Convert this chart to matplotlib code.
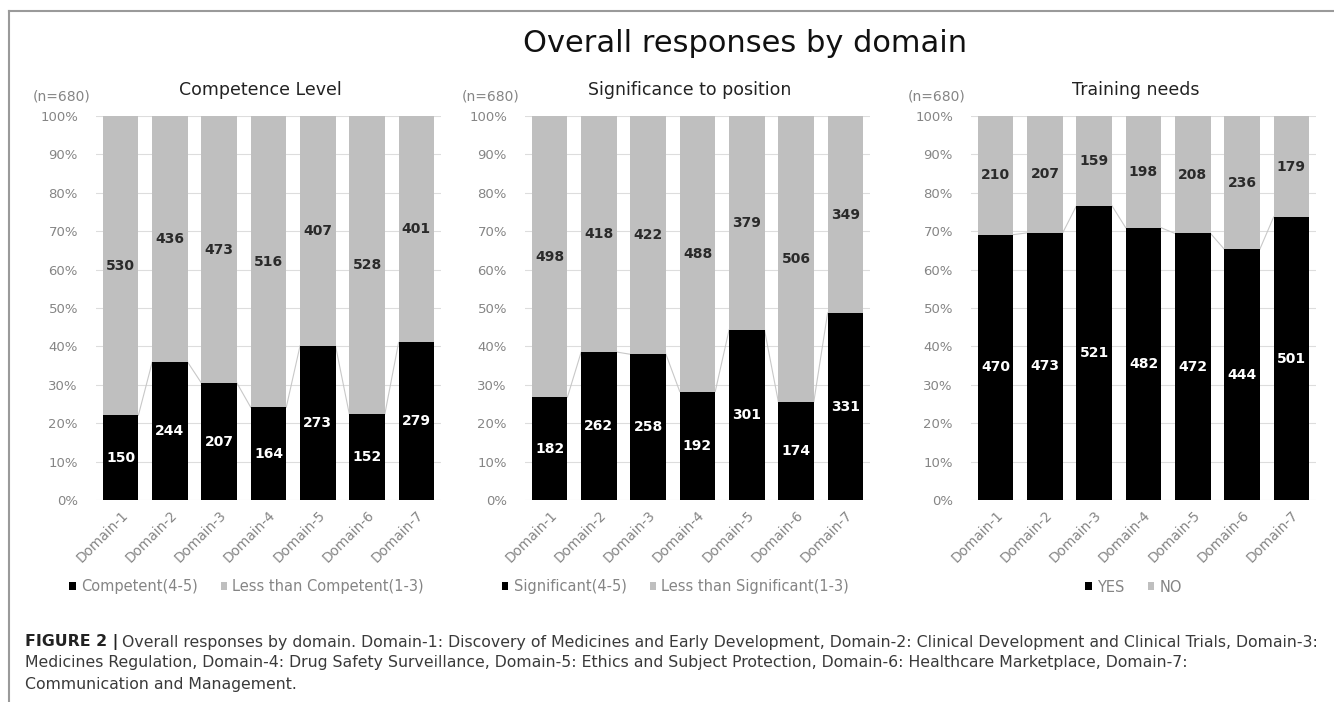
import matplotlib
matplotlib.use("Agg")
from matplotlib import pyplot as plt
from matplotlib.lines import Line2D
from matplotlib.patches import Patch

domains = ["Domain-1", "Domain-2", "Domain-3", "Domain-4", "Domain-5", "Domain-6", "Domain-7"]
n_total = 680

competent = [150, 244, 207, 164, 273, 152, 279]
less_competent = [530, 436, 473, 516, 407, 528, 401]

significant = [182, 262, 258, 192, 301, 174, 331]
less_significant = [498, 418, 422, 488, 379, 506, 349]

yes_needs = [470, 473, 521, 482, 472, 444, 501]
no_needs = [210, 207, 159, 198, 208, 236, 179]

panels = [
    ("Competence Level", competent, less_competent, "Competent(4-5)", "Less than Competent(1-3)"),
    ("Significance to position", significant, less_significant, "Significant(4-5)", "Less than Significant(1-3)"),
    ("Training needs", yes_needs, no_needs, "YES", "NO"),
]

W, H = 1334, 702
plt.rcParams['font.family'] = ['DejaVu Sans']
fig = plt.figure(figsize=(W / 100, H / 100), dpi=100)

GREY = "#bfbfbf"
TXT = "#858585"
axes_left = [96, 525, 971]
legend_shift = [-22, -22, -10]
ax_w = 345
ax_top, ax_bot = 116, 500

fig.text(745 / W, 1 - 44 / H, "Overall responses by domain", ha="center", va="center", fontsize=22, color="#111111")

for (title, low, high, lab_low, lab_high), left, dx in zip(panels, axes_left, legend_shift):
    ax = fig.add_axes([left / W, 1 - ax_bot / H, ax_w / W, (ax_bot - ax_top) / H])
    x = list(range(len(domains)))
    p_low = [v / n_total * 100 for v in low]
    p_high = [v / n_total * 100 for v in high]
    width = 0.72
    ax.bar(x, p_low, width=width, color="black", zorder=3)
    ax.bar(x, p_high, width=width, bottom=p_low, color=GREY, zorder=3)

    # series lines between bar tops
    for i in range(len(x) - 1):
        ax.plot([x[i] + width / 2, x[i + 1] - width / 2], [p_low[i], p_low[i + 1]],
                color="#c8c8c8", lw=0.8, zorder=2)

    for i in x:
        ax.text(i, p_low[i] / 2, str(low[i]), ha="center", va="center", color="white",
                fontsize=10, fontweight="bold", zorder=4)
        ax.text(i, p_low[i] + p_high[i] / 2, str(high[i]), ha="center", va="center", color="#2a2a2a",
                fontsize=10, fontweight="bold", zorder=4)

    ax.set_xlim(-0.5, len(x) - 0.5)
    ax.set_ylim(0, 100)
    ax.set_yticks(range(0, 101, 10))
    ax.set_yticklabels([f"{t}%" for t in range(0, 101, 10)], color=TXT, fontsize=9.5)
    ax.set_xticks(x)
    ax.set_xticklabels(domains, rotation=45, ha="right", rotation_mode="anchor", color=TXT, fontsize=9.8)
    ax.tick_params(axis="x", length=0, pad=6)
    ax.tick_params(axis="y", length=0, pad=13)
    ax.yaxis.grid(True, color="#dddddd", lw=0.8, zorder=0)
    for s in ax.spines.values():
        s.set_visible(False)

    cx = (left + ax_w / 2) / W
    fig.text(cx - 8 / W, 1 - 90 / H, title, ha="center", va="center", fontsize=12.5, color="#222222")
    fig.text((left - 34) / W, 1 - 97 / H, "(n=680)", ha="center", va="center", fontsize=10, color=TXT)

    handles = [Patch(facecolor="black"), Patch(facecolor=GREY)]
    leg = fig.legend(handles, [lab_low, lab_high], loc="center", bbox_to_anchor=(cx + dx / W, 1 - 587 / H),
                     ncol=2, frameon=False, fontsize=10.5, handlelength=0.45, handleheight=0.45,
                     handletextpad=0.35, columnspacing=1.6)
    for t in leg.get_texts():
        t.set_color(TXT)

# frame
fig.add_artist(Line2D([9 / W, 1], [1 - 11 / H, 1 - 11 / H], color="#9a9a9a", lw=1.5, transform=fig.transFigure))
fig.add_artist(Line2D([9 / W, 9 / W], [1 - 11 / H, 0], color="#9a9a9a", lw=1.5, transform=fig.transFigure))

# caption
cap1 = ("Overall responses by domain. Domain-1: Discovery of Medicines and Early Development, "
        "Domain-2: Clinical Development and Clinical Trials, Domain-3:")
cap2 = ("Medicines Regulation, Domain-4: Drug Safety Surveillance, Domain-5: Ethics and Subject Protection, "
        "Domain-6: Healthcare Marketplace, Domain-7:")
cap3 = "Communication and Management."
cap_size = 11.3
bold = fig.text(25 / W, 1 - 642 / H, "FIGURE 2 |", fontsize=cap_size, fontweight="bold",
                color="#222222", va="center", ha="left")
fig.canvas.draw()
bb = bold.get_window_extent()
fig.text((bb.x1 + 4) / W, 1 - 642 / H, cap1, fontsize=cap_size, color="#3a3a3a", va="center", ha="left")
fig.text(25 / W, 1 - 663 / H, cap2, fontsize=cap_size, color="#3a3a3a", va="center", ha="left")
fig.text(25 / W, 1 - 685 / H, cap3, fontsize=cap_size, color="#3a3a3a", va="center", ha="left")

fig.savefig("out.png", dpi=100)
